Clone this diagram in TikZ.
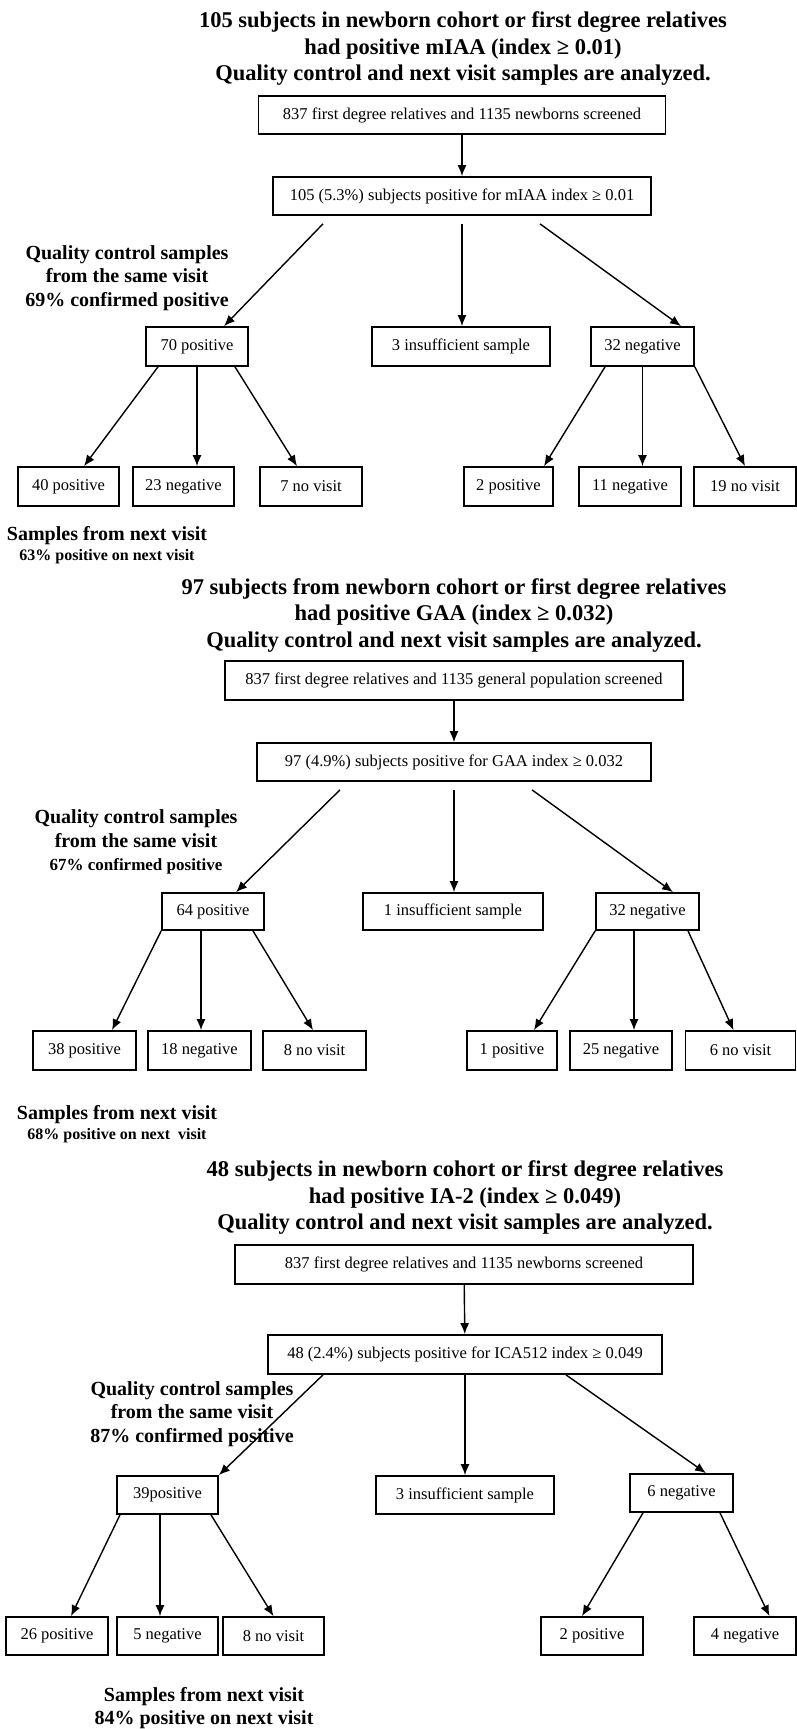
\documentclass[tikz,border=0pt]{standalone}
\usepackage{fontspec}
\setmainfont{Liberation Serif}
\usetikzlibrary{arrows.meta}

\begin{document}
\begin{tikzpicture}[x=1pt, y=-1pt,
		box/.style={draw, line width=1.7pt, inner sep=0pt, minimum height=39pt, font=\fontsize{16.5}{20}\selectfont},
		head/.style={align=center, font=\bfseries\fontsize{22.5}{26.5}\selectfont},
		note/.style={align=center, font=\bfseries\fontsize{20}{23.5}\selectfont},
		link/.style={->, line width=1.4pt},
		>={Latex[length=11pt,width=9pt]}]
	\fill[white] (0,0) rectangle (797,1729);
	\useasboundingbox (0,0) rectangle (797,1729);

	% mIAA
	\node[head] (p1head) at (463,49) {105 subjects in newborn cohort or first degree relatives\\had positive mIAA (index ≥ 0.01)\\Quality control and next visit samples are analyzed.};
	\node[box, minimum width=407pt, minimum height=38pt] (p1all) at (462,115) {837 first degree relatives and 1135 newborns screened};
	\node[box, minimum width=378pt, minimum height=38pt] (p1hit) at (462,196) {105 (5.3\%) subjects positive for mIAA index ≥ 0.01};
	\node[box, minimum width=102pt] (p1pos) at (197,346.5) {70 positive};
	\node[box, minimum width=178pt] (p1ins) at (461,346.5) {3 insufficient sample};
	\node[box, minimum width=103pt] (p1neg) at (642.5,346.5) {32 negative};
	\node[box, minimum width=101pt] (p1pp) at (68.5,486.5) {40 positive};
	\node[box, minimum width=101pt] (p1pn) at (183.5,486.5) {23 negative};
	\node[box, minimum width=102pt] (p1pv) at (311,486.5) {7 no visit};
	\node[box, minimum width=89pt] (p1np) at (508.5,486.5) {2 positive};
	\node[box, minimum width=102pt] (p1nn) at (630,486.5) {11 negative};
	\node[box, minimum width=102pt] (p1nv) at (745,486.5) {19 no visit};
	\node[note] (p1qc) at (127,278) {Quality control samples\\from the same visit\\69\% confirmed positive};
	\node[note] (p1nx) at (107,545) {Samples from next visit\\[-3pt]{\fontsize{16}{19}\selectfont 63\% positive on next visit}};

	\draw[link] (p1all) -- (p1hit);
	\draw[link] ([xshift=-139pt,yshift=-8pt]p1hit.south) -- ([xshift=27pt]p1pos.north);
	\draw[link] ([yshift=-8pt]p1hit.south) -- (p1hit.south |- p1ins.north);
	\draw[link] ([xshift=78pt,yshift=-8pt]p1hit.south) -- ([xshift=38.5pt]p1neg.north);
	\draw[link] ([xshift=-39pt]p1pos.south) -- ([xshift=15.5pt]p1pp.north);
	\draw[link] (p1pos.south) -- (p1pos.south |- p1pn.north);
	\draw[link] ([xshift=38pt]p1pos.south) -- ([xshift=-14pt]p1pv.north);
	\draw[link] ([xshift=-37.5pt]p1neg.south) -- ([xshift=35.5pt]p1np.north);
	\draw[link] (p1neg.south) -- (p1neg.south |- p1nn.north);
	\draw[link] (p1neg.south east) -- (p1nv.north);

	% GAA
	\node[head] (p2head) at (454,615) {97 subjects from newborn cohort or first degree relatives\\had positive GAA (index ≥ 0.032)\\Quality control and next visit samples are analyzed.};
	\node[box, minimum width=458pt] (p2all) at (454,680.5) {837 first degree relatives and 1135 general population screened};
	\node[box, minimum width=394pt, minimum height=38pt] (p2hit) at (454,762) {97 (4.9\%) subjects positive for GAA index ≥ 0.032};
	\node[box, minimum width=102pt, minimum height=37pt] (p2pos) at (213,911.5) {64 positive};
	\node[box, minimum width=180pt, minimum height=37pt] (p2ins) at (453,911.5) {1 insufficient sample};
	\node[box, minimum width=103pt, minimum height=37pt] (p2neg) at (647.5,911.5) {32 negative};
	\node[box, minimum width=103pt] (p2pp) at (84.5,1050.5) {38 positive};
	\node[box, minimum width=103pt] (p2pn) at (199.5,1050.5) {18 negative};
	\node[box, minimum width=103pt] (p2pv) at (314.5,1050.5) {8 no visit};
	\node[box, minimum width=90pt] (p2np) at (512,1050.5) {1 positive};
	\node[box, minimum width=102pt] (p2nn) at (621,1050.5) {25 negative};
	\node[box, minimum width=110pt] (p2nv) at (740.5,1050.5) {6 no visit};
	\node[note] (p2qc) at (136,842) {Quality control samples\\from the same visit\\{\fontsize{17}{20}\selectfont 67\% confirmed positive}};
	\node[note] (p2nx) at (117,1124) {Samples from next visit\\[-3pt]{\fontsize{16}{19}\selectfont 68\% positive on next\ \ visit}};

	\draw[link] (p2all) -- (p2hit);
	\draw[link] ([xshift=-114pt,yshift=-8pt]p2hit.south) -- ([xshift=23pt]p2pos.north);
	\draw[link] ([yshift=-8pt]p2hit.south) -- (p2hit.south |- p2ins.north);
	\draw[link] ([xshift=78pt,yshift=-8pt]p2hit.south) -- ([xshift=25.5pt]p2neg.north);
	\draw[link] (p2pos.south west) -- ([xshift=27.5pt]p2pp.north);
	\draw[link] ([xshift=-12pt]p2pos.south) -- ([xshift=-12pt]p2pos.south |- p2pn.north);
	\draw[link] ([xshift=40pt]p2pos.south) -- ([xshift=-1.5pt]p2pv.north);
	\draw[link] (p2neg.south west) -- ([xshift=22pt]p2np.north);
	\draw[link] ([xshift=-13.5pt]p2neg.south) -- ([xshift=-13.5pt]p2neg.south |- p2nn.north);
	\draw[link] ([xshift=40.5pt]p2neg.south) -- ([xshift=-7pt]p2nv.north);

	% IA-2
	\node[head] (p3head) at (465,1197.5) {48 subjects in newborn cohort or first degree relatives\\had positive IA-2 (index ≥ 0.049)\\Quality control and next visit samples are analyzed.};
	\node[box, minimum width=458pt] (p3all) at (464,1264.5) {837 first degree relatives and 1135 newborns screened};
	\node[box, minimum width=394pt] (p3hit) at (465,1354.5) {48 (2.4\%) subjects positive for ICA512 index ≥ 0.049};
	\node[box, minimum width=101pt, minimum height=38pt] (p3pos) at (167.5,1495) {39positive};
	\node[box, minimum width=178pt, minimum height=38pt] (p3ins) at (465,1495) {3 insufficient sample};
	\node[box, minimum width=103pt, minimum height=38pt] (p3neg) at (681.5,1493) {6 negative};
	\node[box, minimum width=102pt, minimum height=38pt] (p3pp) at (57,1636) {26 positive};
	\node[box, minimum width=101pt, minimum height=38pt] (p3pn) at (167.5,1636) {5 negative};
	\node[box, minimum width=101pt, minimum height=38pt] (p3pv) at (273.5,1636) {8 no visit};
	\node[box, minimum width=102pt, minimum height=38pt] (p3np) at (592,1636) {2 positive};
	\node[box, minimum width=102pt, minimum height=38pt] (p3nn) at (745,1636) {4 negative};
	\node[note] (p3qc) at (192,1414) {Quality control samples\\from the same visit\\87\% confirmed positive};
	\node[note] (p3nx) at (204,1708) {Samples from next visit\\84\% positive on next visit};

	\draw[link] (p3all) -- (p3hit);
	\draw[link] ([xshift=-142pt]p3hit.south) -- (p3pos.north east);
	\draw[link] (p3hit.south) -- (p3hit.south |- p3ins.north);
	\draw[link] ([xshift=101pt]p3hit.south) -- ([xshift=24.5pt]p3neg.north);
	\draw[link] ([xshift=-47.5pt]p3pos.south) -- ([xshift=14pt]p3pp.north);
	\draw[link] ([xshift=-7.5pt]p3pos.south) -- ([xshift=-7.5pt]p3pn.north);
	\draw[link] ([xshift=43.5pt]p3pos.south) -- (p3pv.north);
	\draw[link] ([xshift=-38.5pt]p3neg.south) -- ([xshift=-10pt]p3np.north);
	\draw[link] ([xshift=38.5pt]p3neg.south) -- ([xshift=24.5pt]p3nn.north);
\end{tikzpicture}
\end{document}
